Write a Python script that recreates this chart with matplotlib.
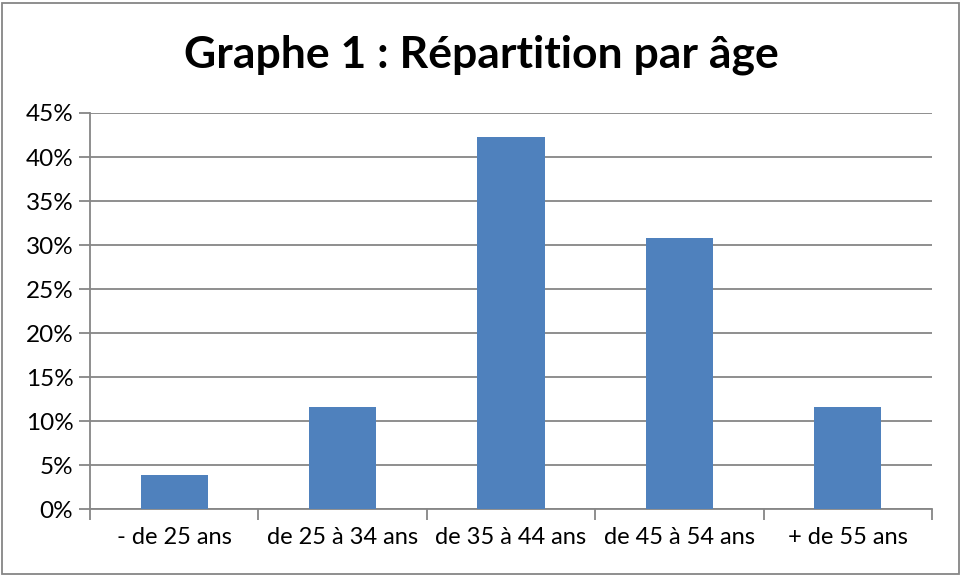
import matplotlib.pyplot as plt
from matplotlib.patches import Rectangle
from matplotlib.ticker import FuncFormatter, MultipleLocator

categories = ['- de 25 ans', 'de 25 à 34 ans', 'de 35 à 44 ans', 'de 45 à 54 ans', '+ de 55 ans']
shares = [3.85, 11.54, 42.31, 30.77, 11.54]  # percent

plt.rcParams['font.family'] = ['Lato', 'DejaVu Sans']

fig = plt.figure(figsize=(9.63, 5.76), dpi=100)
ax = fig.add_axes([90 / 963, 1 - 509 / 576, (932 - 90) / 963, (509 - 113) / 576])

x = range(len(categories))
ax.bar(x, shares, width=0.4, color='#4F81BD', zorder=3)

ax.set_xlim(-0.5, len(categories) - 0.5)
ax.set_ylim(0, 45)
ax.yaxis.set_major_locator(MultipleLocator(5))
ax.yaxis.set_major_formatter(FuncFormatter(lambda v, p: '{:.0f}%'.format(v)))
ax.grid(axis='y', color='#868686', linewidth=1.3, zorder=0)

# category labels between boundary ticks, like Excel
ax.set_xticks([i - 0.5 for i in range(len(categories) + 1)])
ax.set_xticklabels([])
ax.set_xticks(list(x), minor=True)
ax.set_xticklabels(categories, minor=True)
ax.tick_params(axis='x', which='minor', length=0, pad=13, labelsize=17)
ax.tick_params(axis='x', which='major', length=8, width=1.3, color='#868686', direction='out')
ax.tick_params(axis='y', length=8, width=1.3, color='#868686', direction='out', labelsize=17.5, pad=4)

for side in ('top', 'right'):
    ax.spines[side].set_visible(False)
for side in ('left', 'bottom'):
    ax.spines[side].set_color('#868686')
    ax.spines[side].set_linewidth(1.3)

fig.text(0.5, 1 - 55 / 576, 'Graphe 1 : Répartition par âge', ha='center', va='center',
         fontsize=32, fontweight='bold')

fig.patches.append(Rectangle((2 / 963, 2 / 576), 957 / 963, 571 / 576, transform=fig.transFigure,
                             fill=False, edgecolor='#868686', linewidth=1.3))

fig.savefig('out.png', dpi=100)
